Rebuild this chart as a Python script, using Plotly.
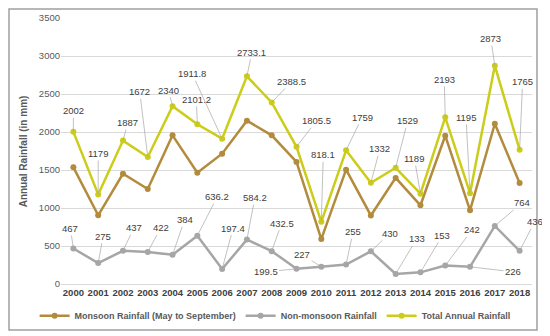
import plotly.graph_objects as go

years = [str(y) for y in range(2000, 2019)]
monsoon = [1535, 904, 1450, 1250, 1956, 1465, 1714.4, 2148.9, 1956, 1606, 591.1,
           1504, 902, 1396, 1036, 1951, 969, 2109, 1329]
non_monsoon = [467, 275, 437, 422, 384, 636.2, 197.4, 584.2, 432.5, 199.5, 227,
               255, 430, 133, 153, 242, 226, 764, 436]
total = [2002, 1179, 1887, 1672, 2340, 2101.2, 1911.8, 2733.1, 2388.5, 1805.5, 818.1,
         1759, 1332, 1529, 1189, 2193, 1195, 2873, 1765]
total_labels = ["2002", "1179", "1887", "1672", "2340", "2101.2", "1911.8", "2733.1", "2388.5",
                "1805.5", "818.1", "1759", "1332", "1529", "1189", "2193", "1195", "2873", "1765"]
non_labels = ["467", "275", "437", "422", "384", "636.2", "197.4", "584.2", "432.5", "199.5",
              "227", "255", "430", "133", "153", "242", "226", "764", "436"]

# label offsets (pixels) for data labels
total_off = [(0, -21), (0, -41), (5, -18), (-8, -65), (-4, -16), (-1, -25), (-30, -65), (5, -24),
             (20, -21), (20, -26), (2, -67), (16, -33), (9, -34), (12, -47), (-6, -35), (-1, -38),
             (-4, -76), (-4, -27), (3, -68)]
non_off = [(-3, -20), (5, -27), (11, -23), (13, -24), (12, -35), (20, -39), (11, -41), (8, -42),
           (10, -28), (-31, 3), (-19, -12), (7, -33), (19, -18), (21, -35), (22, -37), (27, -36),
           (43, 5), (27, -23), (15, -29)]

C_MON = "#B38B3C"
C_NON = "#A6A6A6"
C_TOT = "#CCCC1A"
FONT = "Liberation Sans, Arial, sans-serif"

fig = go.Figure()
fig.add_trace(go.Scatter(x=years, y=monsoon, name="Monsoon Rainfall (May to September)",
                         mode="lines+markers", line=dict(color=C_MON, width=2.5),
                         marker=dict(color=C_MON, size=6)))
fig.add_trace(go.Scatter(x=years, y=non_monsoon, name="Non-monsoon Rainfall",
                         mode="lines+markers", line=dict(color=C_NON, width=2.5),
                         marker=dict(color=C_NON, size=6)))
fig.add_trace(go.Scatter(x=years, y=total, name="Total Annual Rainfall",
                         mode="lines+markers", line=dict(color=C_TOT, width=2.5),
                         marker=dict(color=C_TOT, size=6)))

annos = []
for i, (v, t, (dx, dy)) in enumerate(zip(total, total_labels, total_off)):
    annos.append(dict(x=i, y=v, text=t, ax=dx, ay=dy, showarrow=True, arrowhead=0,
                      arrowwidth=0.7, arrowcolor="#A6A6A6", standoff=0,
                      font=dict(family=FONT, size=9.5, color="#404040")))
for i, (v, t, (dx, dy)) in enumerate(zip(non_monsoon, non_labels, non_off)):
    annos.append(dict(x=i, y=v, text=t, ax=dx, ay=dy, showarrow=True, arrowhead=0,
                      arrowwidth=0.7, arrowcolor="#A6A6A6", standoff=0,
                      font=dict(family=FONT, size=9.5, color="#404040")))
annos.append(dict(text="Annual Rainfall (in mm)", xref="paper", yref="paper",
                  x=-0.08, y=0.5, textangle=-90, showarrow=False,
                  xanchor="center", yanchor="middle",
                  font=dict(family=FONT, size=10, color="#595959", weight="bold")))

fig.update_layout(
    width=542, height=328,
    margin=dict(l=53, r=18, t=10, b=52, autoexpand=False),
    paper_bgcolor="white", plot_bgcolor="white",
    font=dict(family=FONT, size=10, color="#595959"),
    showlegend=True,
    legend=dict(orientation="h", x=-0.056, xanchor="left", y=-0.065, yanchor="top",
                font=dict(family=FONT, size=9, color="#595959", weight="bold"),
                itemwidth=30, tracegroupgap=0, bgcolor="rgba(0,0,0,0)"),
    annotations=annos,
    shapes=[dict(type="rect", xref="paper", yref="paper",
                 x0=-0.1104, x1=1.0106, y0=-0.173, y1=1.034,
                 line=dict(color="#A0A0A0", width=1.5), fillcolor="rgba(0,0,0,0)")],
)
fig.update_xaxes(type="category", range=[-0.5, 18.5], showgrid=False, showline=True,
                 linecolor="#D9D9D9", ticks="", automargin=False,
                 tickfont=dict(family=FONT, size=9.5, color="#404040", weight="bold"))
fig.update_yaxes(range=[0, 3500], dtick=500, showgrid=True, gridcolor="#D9D9D9", gridwidth=1,
                 zeroline=False, showline=False, ticks="", automargin=False,
                 tickfont=dict(family=FONT, size=9.5, color="#595959"))

fig.write_html("out.html")
